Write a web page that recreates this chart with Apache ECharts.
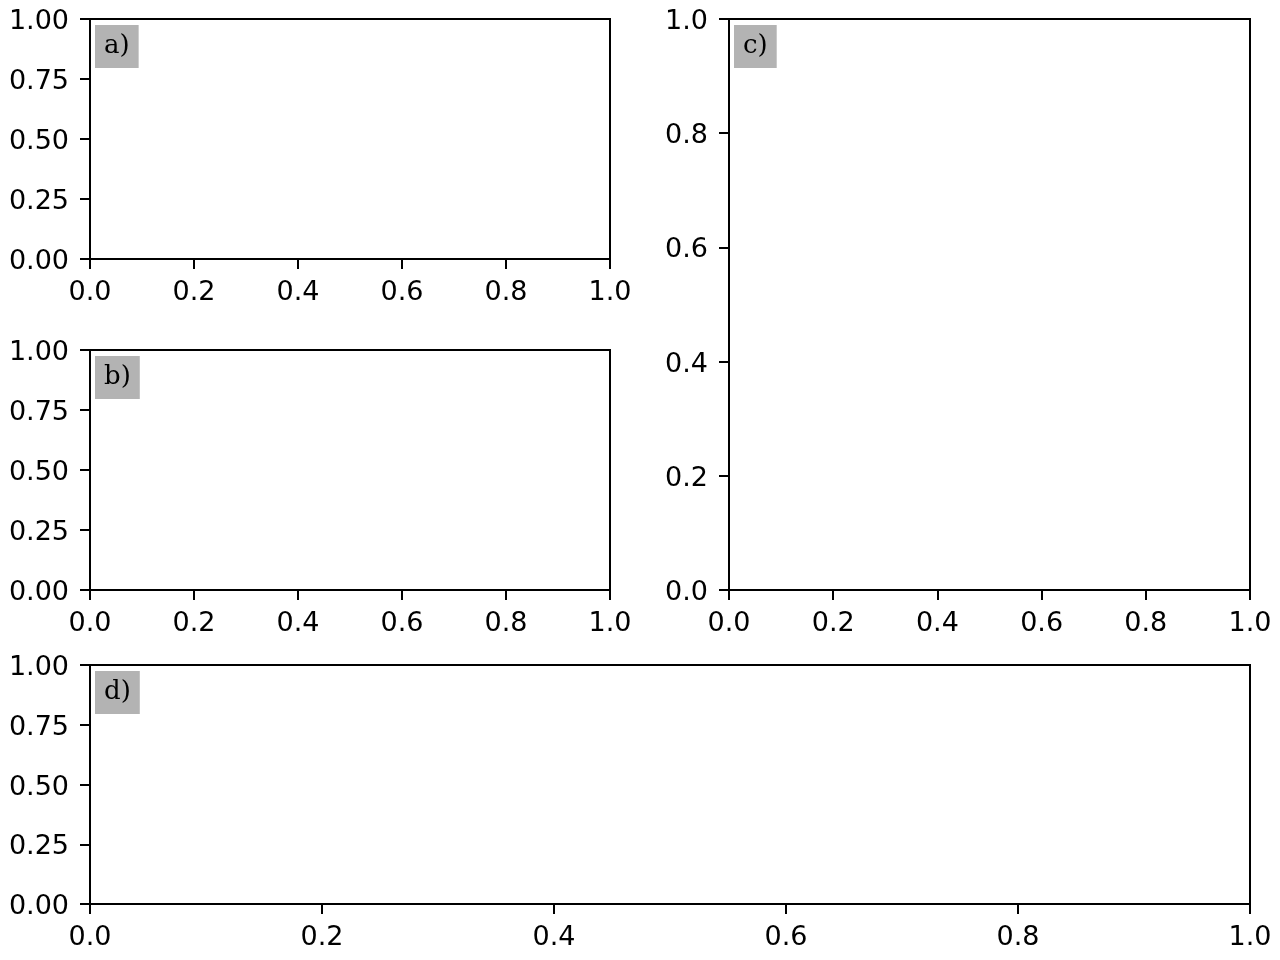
<!DOCTYPE html>
<html>
<head>
<meta charset="utf-8">
<script src="https://cdn.jsdelivr.net/npm/echarts@6/dist/echarts.min.js"></script>
<style>
  html, body { margin: 0; padding: 0; background: #fff; }
  #chart { width: 1280px; height: 960px; }
</style>
</head>
<body>
<div id="chart"></div>
<script>
// panel letters, top-left of each axes
const panelLabels = ['a)', 'b)', 'c)', 'd)'];

// tick positions
const ticksQuarter = [0, 0.25, 0.5, 0.75, 1.0];
const ticksFifth = [0, 0.2, 0.4, 0.6, 0.8, 1.0];

// panel boxes (px): a, b, c, d
const panelRects = [
  { left: 90, top: 19, width: 520, height: 240, yStep: 0.25 },
  { left: 90, top: 350, width: 520, height: 240, yStep: 0.25 },
  { left: 729, top: 19, width: 521, height: 571, yStep: 0.2 },
  { left: 90, top: 665, width: 1160, height: 239, yStep: 0.25 },
];

const AXIS_FONT = 'DejaVu Sans';
const LINE_W = 2;

function fmt(step, isY) {
  const dec = step === 0.25 ? 2 : 1;
  // y labels go through rich text so they can sit a few px lower, like matplotlib
  return isY ? (v) => '{v|' + v.toFixed(dec) + '}' : (v) => v.toFixed(dec);
}

function makeAxis(step, gridIndex, isY) {
  const ticks = step === 0.25 ? ticksQuarter : ticksFifth;
  return {
    type: 'value',
    gridIndex,
    min: ticks[0],
    max: ticks[ticks.length - 1],
    interval: step,
    axisLine: { show: true, onZero: false, lineStyle: { color: '#000', width: LINE_W } },
    axisTick: { show: true, length: 10, lineStyle: { color: '#000', width: LINE_W } },
    axisLabel: {
      show: true,
      color: '#000',
      fontFamily: AXIS_FONT,
      fontSize: 27,
      margin: isY ? 21 : 20,
      showMinLabel: true,
      showMaxLabel: true,
      formatter: fmt(step, isY),
      rich: {
        v: { fontFamily: AXIS_FONT, fontSize: 27, color: '#000', padding: [6, 0, 0, 0] },
      },
    },
    splitLine: { show: false },
  };
}

const grids = panelRects.map(r => ({
  left: r.left, top: r.top, width: r.width, height: r.height,
  show: true, borderColor: '#000', borderWidth: LINE_W,
  backgroundColor: 'transparent',
  containLabel: false,
}));

const xAxes = panelRects.map((r, i) => makeAxis(0.2, i, false));
const yAxes = panelRects.map((r, i) => makeAxis(r.yStep, i, true));

const titles = panelRects.map((r, i) => ({
  text: panelLabels[i],
  left: r.left + 5,
  top: r.top + 6,
  backgroundColor: '#b3b3b3',
  padding: [7, 9, 7, 9],
  textStyle: {
    fontFamily: 'DejaVu Serif',
    fontSize: 26,
    fontWeight: 'normal',
    color: '#000',
    lineHeight: 29,
  },
}));

const series = panelRects.map((r, i) => ({
  type: 'scatter',
  xAxisIndex: i,
  yAxisIndex: i,
  data: [],
}));

const chart = echarts.init(document.getElementById('chart'), null, { renderer: 'canvas' });
chart.setOption({
  animation: false,
  backgroundColor: '#fff',
  title: titles,
  grid: grids,
  xAxis: xAxes,
  yAxis: yAxes,
  series,
});
</script>
</body>
</html>
